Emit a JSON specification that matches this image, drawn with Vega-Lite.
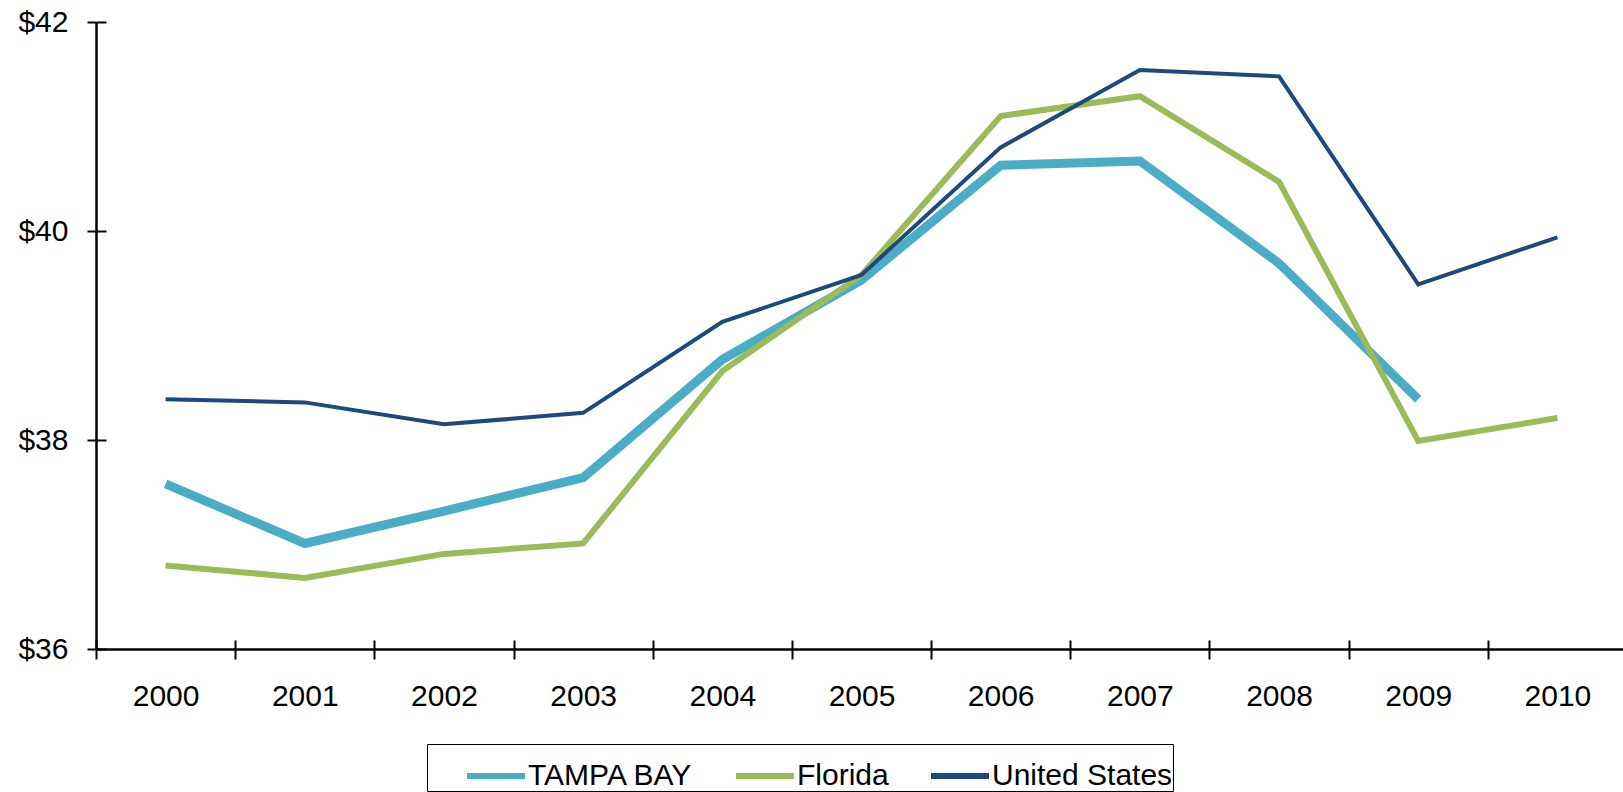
{
  "$schema": "https://vega.github.io/schema/vega-lite/v6.json",
  "width": 1531,
  "height": 627,
  "autosize": {"type": "none"},
  "padding": {"left": 96, "top": 22, "right": 0, "bottom": 143},
  "config": {
    "view": {"stroke": null},
    "font": "Liberation Sans",
    "axis": {
      "domainColor": "black",
      "domainWidth": 2.5,
      "tickColor": "black",
      "tickWidth": 2,
      "labelColor": "black",
      "labelFont": "Liberation Sans",
      "labelFontSize": 30,
      "grid": false,
      "title": null
    },
    "line": {"strokeCap": "butt", "strokeJoin": "miter"}
  },
  "data": {
    "values": [
      {"year": "2000", "series": "TAMPA BAY", "value": 37.58},
      {"year": "2001", "series": "TAMPA BAY", "value": 37.01},
      {"year": "2002", "series": "TAMPA BAY", "value": 37.32},
      {"year": "2003", "series": "TAMPA BAY", "value": 37.64},
      {"year": "2004", "series": "TAMPA BAY", "value": 38.77},
      {"year": "2005", "series": "TAMPA BAY", "value": 39.53},
      {"year": "2006", "series": "TAMPA BAY", "value": 40.63},
      {"year": "2007", "series": "TAMPA BAY", "value": 40.67},
      {"year": "2008", "series": "TAMPA BAY", "value": 39.69},
      {"year": "2009", "series": "TAMPA BAY", "value": 38.39},
      {"year": "2000", "series": "Florida", "value": 36.80},
      {"year": "2001", "series": "Florida", "value": 36.68},
      {"year": "2002", "series": "Florida", "value": 36.91},
      {"year": "2003", "series": "Florida", "value": 37.01},
      {"year": "2004", "series": "Florida", "value": 38.66},
      {"year": "2005", "series": "Florida", "value": 39.58},
      {"year": "2006", "series": "Florida", "value": 41.10},
      {"year": "2007", "series": "Florida", "value": 41.29},
      {"year": "2008", "series": "Florida", "value": 40.47},
      {"year": "2009", "series": "Florida", "value": 37.99},
      {"year": "2010", "series": "Florida", "value": 38.21},
      {"year": "2000", "series": "United States", "value": 38.39},
      {"year": "2001", "series": "United States", "value": 38.36},
      {"year": "2002", "series": "United States", "value": 38.15},
      {"year": "2003", "series": "United States", "value": 38.26},
      {"year": "2004", "series": "United States", "value": 39.13},
      {"year": "2005", "series": "United States", "value": 39.58},
      {"year": "2006", "series": "United States", "value": 40.80},
      {"year": "2007", "series": "United States", "value": 41.54},
      {"year": "2008", "series": "United States", "value": 41.48},
      {"year": "2009", "series": "United States", "value": 39.49},
      {"year": "2010", "series": "United States", "value": 39.94}
    ]
  },
  "encoding": {
    "x": {
      "field": "year", "type": "ordinal", "bandPosition": 0.5,
      "scale": {"type": "band", "paddingInner": 0, "paddingOuter": 0}
    },
    "y": {
      "field": "value", "type": "quantitative",
      "scale": {"domain": [36, 42], "nice": false, "zero": false}
    }
  },
  "layer": [
    {
      "mark": {"type": "line", "opacity": 0},
      "encoding": {
        "x": {
          "field": "year", "type": "ordinal", "bandPosition": 0.5,
          "axis": {"orient": "bottom", "tickBand": "extent", "tickSize": -9, "labels": false, "domain": false}
        },
        "y": {
          "field": "value", "type": "quantitative",
          "axis": {"orient": "left", "values": [36, 38, 40, 42], "tickSize": -10, "labels": false, "domain": false}
        }
      }
    },
    {
      "layer": [
        {
          "transform": [{"filter": "datum.series === 'TAMPA BAY'"}],
          "mark": {"type": "line", "strokeWidth": 9}
        },
        {
          "transform": [{"filter": "datum.series === 'Florida'"}],
          "mark": {"type": "line", "strokeWidth": 6}
        },
        {
          "transform": [{"filter": "datum.series === 'United States'"}],
          "mark": {"type": "line", "strokeWidth": 4}
        }
      ],
      "encoding": {
        "x": {
          "field": "year", "type": "ordinal", "bandPosition": 0.5,
          "axis": {"orient": "bottom", "tickBand": "extent", "tickSize": 10, "labelPadding": 22, "labelAngle": 0}
        },
        "y": {
          "field": "value", "type": "quantitative",
          "axis": {"orient": "left", "values": [36, 38, 40, 42], "tickSize": 9, "labelPadding": 19, "labelExpr": "'$' + datum.value"}
        },
        "color": {
          "field": "series", "type": "nominal",
          "scale": {"domain": ["TAMPA BAY", "Florida", "United States"], "range": ["#4BACC6", "#9BBB59", "#1F497D"]},
          "legend": {
            "title": null,
            "orient": "none",
            "legendX": 331,
            "legendY": 722,
            "direction": "horizontal",
            "columns": 3,
            "symbolType": "stroke",
            "symbolSize": 3364,
            "symbolOffset": 37,
            "symbolStrokeWidth": 6,
            "labelFont": "Liberation Sans",
            "labelFontSize": 30,
            "labelColor": "black",
            "labelLimit": 400,
            "labelOffset": 0,
            "columnPadding": 2,
            "padding": 0,
            "strokeColor": "black",
            "fillColor": "white",
            "encode": {
              "symbols": {
                "enter": {
                  "strokeWidth": {"signal": "datum.value === 'TAMPA BAY' ? 9 : datum.value === 'Florida' ? 6 : 4"}
                },
                "update": {
                  "strokeWidth": {"signal": "datum.value === 'TAMPA BAY' ? 9 : datum.value === 'Florida' ? 6 : 4"}
                }
              }
            }
          }
        }
      }
    }
  ],
  "resolve": {"axis": {"x": "independent", "y": "independent"}}
}
